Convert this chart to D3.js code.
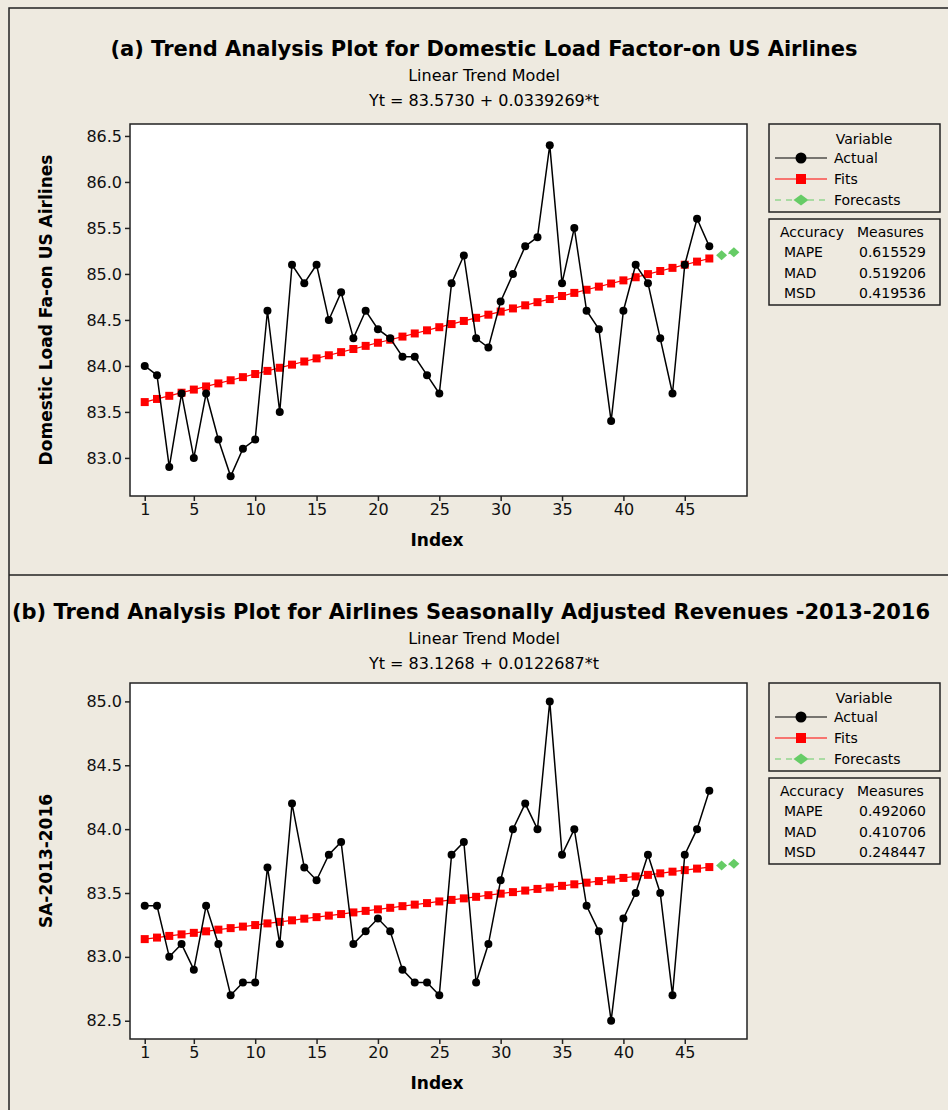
<!DOCTYPE html>
<html>
<head>
<meta charset="utf-8">
<script src="https://cdn.jsdelivr.net/npm/d3@7"></script>
<style>
  body { margin: 0; background: #eeeae0; }
  svg { display: block; font-family: "DejaVu Sans", Verdana, sans-serif; }
</style>
</head>
<body>
<div id="chart"></div>
<script>
const width = 948;
const height = 1110;

// panel (a): domestic load factor
const loadActual = [84.0, 83.9, 82.9, 83.7, 83.0, 83.7, 83.2, 82.8, 83.1, 83.2,
  84.6, 83.5, 85.1, 84.9, 85.1, 84.5, 84.8, 84.3, 84.6, 84.4,
  84.3, 84.1, 84.1, 83.9, 83.7, 84.9, 85.2, 84.3, 84.2, 84.7,
  85.0, 85.3, 85.4, 86.4, 84.9, 85.5, 84.6, 84.4, 83.4, 84.6,
  85.1, 84.9, 84.3, 83.7, 85.1, 85.6, 85.3];
const loadFits = [83.607, 83.641, 83.675, 83.709, 83.743, 83.777, 83.810, 83.844, 83.878, 83.912,
  83.946, 83.980, 84.014, 84.048, 84.082, 84.116, 84.150, 84.184, 84.218, 84.252,
  84.285, 84.319, 84.353, 84.387, 84.421, 84.455, 84.489, 84.523, 84.557, 84.591,
  84.625, 84.659, 84.693, 84.727, 84.760, 84.794, 84.828, 84.862, 84.896, 84.930,
  84.964, 84.998, 85.032, 85.066, 85.100, 85.134, 85.168];
const loadForecasts = [85.202, 85.235];
const loadYTicks = [83.0, 83.5, 84.0, 84.5, 85.0, 85.5, 86.0, 86.5];
const loadMeasures = [["MAPE", "0.615529"], ["MAD", "0.519206"], ["MSD", "0.419536"]];

// panel (b): seasonally adjusted revenues
const revActual = [83.4, 83.4, 83.0, 83.1, 82.9, 83.4, 83.1, 82.7, 82.8, 82.8,
  83.7, 83.1, 84.2, 83.7, 83.6, 83.8, 83.9, 83.1, 83.2, 83.3,
  83.2, 82.9, 82.8, 82.8, 82.7, 83.8, 83.9, 82.8, 83.1, 83.6,
  84.0, 84.2, 84.0, 85.0, 83.8, 84.0, 83.4, 83.2, 82.5, 83.3,
  83.5, 83.8, 83.5, 82.7, 83.8, 84.0, 84.3];
const revFits = [83.139, 83.151, 83.164, 83.176, 83.188, 83.200, 83.213, 83.225, 83.237, 83.249,
  83.262, 83.274, 83.286, 83.299, 83.311, 83.323, 83.335, 83.348, 83.360, 83.372,
  83.384, 83.397, 83.409, 83.421, 83.434, 83.446, 83.458, 83.470, 83.483, 83.495,
  83.507, 83.519, 83.532, 83.544, 83.556, 83.568, 83.581, 83.593, 83.605, 83.618,
  83.630, 83.642, 83.654, 83.667, 83.679, 83.691, 83.703];
const revForecasts = [83.716, 83.728];
const revYTicks = [82.5, 83.0, 83.5, 84.0, 84.5, 85.0];
const revMeasures = [["MAPE", "0.492060"], ["MAD", "0.410706"], ["MSD", "0.248447"]];

const xTicks = [1, 5, 10, 15, 20, 25, 30, 35, 40, 45];
const legendItems = ["Actual", "Fits", "Forecasts"];

const svg = d3.select("#chart").append("svg")
  .attr("width", width)
  .attr("height", height);

svg.append("rect").attr("width", width).attr("height", height).attr("fill", "#eeeae0");

// outer frame + divider
svg.append("path")
  .attr("d", `M9,${height} V8 H${width}`)
  .attr("fill", "none").attr("stroke", "#222").attr("stroke-width", 1.5);
svg.append("line")
  .attr("x1", 9).attr("x2", width).attr("y1", 575).attr("y2", 575)
  .attr("stroke", "#222").attr("stroke-width", 1.5);

// diamond = square turned 45deg, a bit wider than tall
function diamond(sel, cx, cy, w, h) {
  return sel.append("path")
    .attr("d", `M${cx - w / 2},${cy} L${cx},${cy - h / 2} L${cx + w / 2},${cy} L${cx},${cy + h / 2} Z`)
    .attr("fill", "#66cc66");
}

function drawPanel(p) {
  const g = svg.append("g");

  // titles
  g.append("text").attr("x", p.titleX).attr("y", p.titleY)
    .attr("text-anchor", "middle").attr("font-size", 21).attr("font-weight", "bold")
    .text(p.title);
  g.append("text").attr("x", 484).attr("y", p.titleY + 25)
    .attr("text-anchor", "middle").attr("font-size", 16)
    .text("Linear Trend Model");
  g.append("text").attr("x", 484).attr("y", p.titleY + 50)
    .attr("text-anchor", "middle").attr("font-size", 16)
    .text(p.equation);

  const x = d3.scaleLinear().domain([-0.2, 50.07]).range([130, 747]);
  const y = d3.scaleLinear().domain(p.yDomain).range([p.bottom, p.top]);

  g.append("rect")
    .attr("x", 130).attr("y", p.top)
    .attr("width", 617).attr("height", p.bottom - p.top)
    .attr("fill", "#fff").attr("stroke", "#222").attr("stroke-width", 1.5);

  const yAxis = g.append("g").attr("transform", "translate(130,0)")
    .call(d3.axisLeft(y).tickValues(p.yTicks).tickFormat(d3.format(".1f")).tickSize(5).tickPadding(3));
  const xAxis = g.append("g").attr("transform", `translate(0,${p.bottom})`)
    .call(d3.axisBottom(x).tickValues(xTicks).tickSize(5).tickPadding(3));
  [yAxis, xAxis].forEach((a) => {
    a.select(".domain").remove();
    a.selectAll("line").attr("stroke", "#222").attr("stroke-width", 1.5);
    a.selectAll("text").attr("font-size", 16).attr("fill", "#111")
      .attr("font-family", "DejaVu Sans, sans-serif");
  });

  g.append("text").attr("x", 437).attr("y", p.bottom + 50)
    .attr("text-anchor", "middle").attr("font-size", 17).attr("font-weight", "bold")
    .text("Index");
  g.append("text")
    .attr("transform", `translate(52,${(p.top + p.bottom) / 2}) rotate(-90)`)
    .attr("text-anchor", "middle").attr("font-size", 17).attr("font-weight", "bold")
    .text(p.yLabel);

  const line = d3.line().x((d, i) => x(i + 1)).y((d) => y(d));

  // fits
  g.append("path").datum(p.fits).attr("d", line)
    .attr("fill", "none").attr("stroke", "#ff0000").attr("stroke-width", 1.2);
  g.selectAll(".fit").data(p.fits).enter().append("rect")
    .attr("x", (d, i) => x(i + 1) - 4).attr("y", (d) => y(d) - 4)
    .attr("width", 8).attr("height", 8).attr("fill", "#ff0000");

  // forecasts
  const fc = p.forecasts.map((v, i) => [p.fits.length + 1 + i, v]);
  g.append("path").datum(fc)
    .attr("d", d3.line().x((d) => x(d[0])).y((d) => y(d[1])))
    .attr("fill", "none").attr("stroke", "#66cc66").attr("stroke-width", 1.2)
    .attr("stroke-dasharray", "4,3");
  fc.forEach((d) => diamond(g, x(d[0]), y(d[1]), 11, 10));

  // actual
  g.append("path").datum(p.actual).attr("d", line)
    .attr("fill", "none").attr("stroke", "#000").attr("stroke-width", 1.5);
  g.selectAll(".act").data(p.actual).enter().append("circle")
    .attr("cx", (d, i) => x(i + 1)).attr("cy", (d) => y(d))
    .attr("r", 4).attr("fill", "#000");

  // legend
  const lg = g.append("g").attr("transform", `translate(769,${p.top})`);
  lg.append("rect").attr("width", 171).attr("height", 88)
    .attr("fill", "none").attr("stroke", "#222").attr("stroke-width", 1.5);
  lg.append("text").attr("x", 95).attr("y", 20).attr("text-anchor", "middle")
    .attr("font-size", 14).text("Variable");
  const styles = [
    { stroke: "#000", dash: null, fill: "#000", shape: "circle" },
    { stroke: "#ff0000", dash: null, fill: "#ff0000", shape: "square" },
    { stroke: "#66cc66", dash: "6,5", fill: "#66cc66", shape: "diamond" }
  ];
  legendItems.forEach((name, i) => {
    const ly = 34 + i * 21;
    const s = styles[i];
    lg.append("line").attr("x1", 6).attr("x2", 58).attr("y1", ly).attr("y2", ly)
      .attr("stroke", s.stroke).attr("stroke-width", 1.2).attr("stroke-dasharray", s.dash);
    if (s.shape === "circle") {
      lg.append("circle").attr("cx", 32).attr("cy", ly).attr("r", 5.5).attr("fill", s.fill);
    } else if (s.shape === "square") {
      lg.append("rect").attr("x", 27).attr("y", ly - 5).attr("width", 10).attr("height", 10).attr("fill", s.fill);
    } else {
      diamond(lg, 32, ly, 15, 11);
    }
    lg.append("text").attr("x", 65).attr("y", ly + 5).attr("font-size", 14).text(name);
  });

  const ag = g.append("g").attr("transform", `translate(769,${p.top + 95})`);
  ag.append("rect").attr("width", 171).attr("height", 86)
    .attr("fill", "none").attr("stroke", "#222").attr("stroke-width", 1.5);
  ag.append("text").attr("x", 11).attr("y", 18).attr("font-size", 14).text("Accuracy");
  ag.append("text").attr("x", 88).attr("y", 18).attr("font-size", 14).text("Measures");
  p.measures.forEach((m, i) => {
    ag.append("text").attr("x", 15).attr("y", 38 + i * 20.5).attr("font-size", 14).text(m[0]);
    ag.append("text").attr("x", 90).attr("y", 38 + i * 20.5).attr("font-size", 14).text(m[1]);
  });
}

drawPanel({
  titleX: 484,
  titleY: 56,
  title: "(a) Trend Analysis Plot for Domestic Load Factor-on US Airlines",
  equation: "Yt = 83.5730 + 0.0339269*t",
  top: 124, bottom: 496,
  yDomain: [82.586, 86.63],
  yTicks: loadYTicks,
  yLabel: "Domestic Load Fa-on US Airlines",
  actual: loadActual, fits: loadFits, forecasts: loadForecasts,
  measures: loadMeasures
});

drawPanel({
  titleX: 471,
  titleY: 619,
  title: "(b) Trend Analysis Plot for Airlines Seasonally Adjusted Revenues -2013-2016",
  equation: "Yt = 83.1268 + 0.0122687*t",
  top: 683, bottom: 1039,
  yDomain: [82.357, 85.144],
  yTicks: revYTicks,
  yLabel: "SA-2013-2016",
  actual: revActual, fits: revFits, forecasts: revForecasts,
  measures: revMeasures
});
</script>
</body>
</html>
